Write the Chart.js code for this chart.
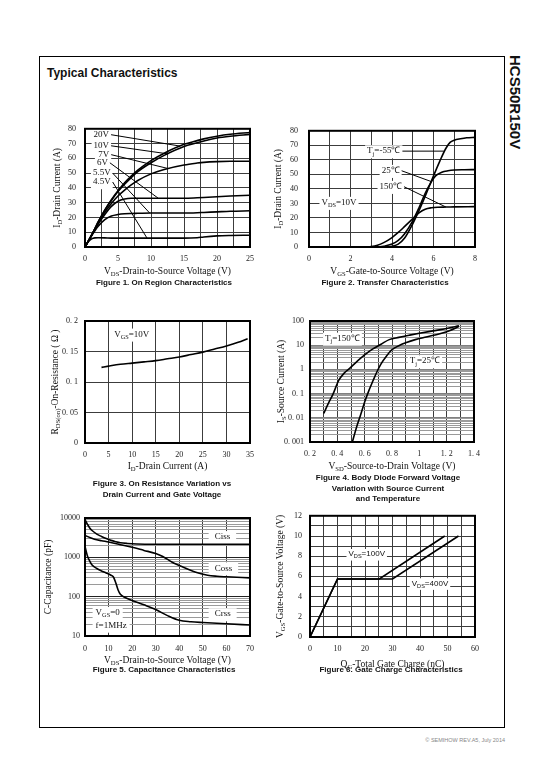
<!DOCTYPE html>
<html>
<head>
<meta charset="utf-8">
<script src="https://cdn.jsdelivr.net/npm/chart.js@4.4.1/dist/chart.umd.min.js"></script>
<style>
body { margin: 0; background: #fff; width: 540px; height: 780px; position: relative; overflow: hidden; font-family: 'Liberation Sans', Arial, sans-serif; }
#page { position: absolute; left: 39px; top: 56px; width: 466px; height: 672px; border: 1px solid #000; box-sizing: border-box; }
#title { position: absolute; left: 47px; top: 66px; font-weight: bold; font-size: 12px; line-height: 14px; color: #111; }
#part { position: absolute; left: 507px; top: 55px; writing-mode: vertical-rl; font-weight: bold; font-size: 15px; line-height: 16px; color: #111; }
#foot { position: absolute; right: 35px; top: 737px; font-size: 5.5px; color: #888; }
canvas { position: absolute; }
.cap { position: absolute; font-weight: bold; font-size: 8px; line-height: 10.5px; color: #111; text-align: center; white-space: nowrap; transform: translateX(-50%); }
</style>
</head>
<body>
<div id="page"></div>
<div id="title">Typical Characteristics</div>
<div id="part">HCS50R150V</div>

<canvas id="fig1"></canvas>
<canvas id="fig2"></canvas>
<canvas id="fig3"></canvas>
<canvas id="fig4"></canvas>
<canvas id="fig5"></canvas>
<canvas id="fig6"></canvas>

<div class="cap" style="left:164px; top:278px">Figure 1. On Region Characteristics</div>
<div class="cap" style="left:385px; top:278px">Figure 2. Transfer Characteristics</div>
<div class="cap" style="left:162px; top:479px">Figure 3. On Resistance Variation vs<br>Drain Current and Gate Voltage</div>
<div class="cap" style="left:388px; top:473px">Figure 4. Body Diode Forward Voltage<br>Variation with Source Current<br>and Temperature</div>
<div class="cap" style="left:164px; top:665px">Figure 5. Capacitance Characteristics</div>
<div class="cap" style="left:391px; top:665px">Figure 6. Gate Charge Characteristics</div>
<div id="foot">© SEMIHOW REV.A5, July 2014</div>

<script>
// ---- Figure 1: on region (ID vs VDS for several VGS)
const fig1Vds  = [0, 0.5, 1, 1.5, 2, 3, 4, 5, 6, 7, 8, 10, 12, 15, 17, 18, 20, 22, 25];
const fig1Id20 = [0, 4, 8, 12.5, 17, 25, 32, 38, 43.5, 48, 52, 58.5, 63.5, 69.5, 72, 73.2, 75, 76.3, 77.5];
const fig1Id10 = [0, 4, 8, 12.5, 17, 25, 31.5, 37.5, 42.5, 47, 51, 57, 62, 68, 70.5, 71.8, 73.8, 75, 76.2];
const fig1Id7  = [0, 4, 8, 12, 16, 23.5, 29.5, 34.5, 38.5, 42, 45, 49.5, 52.5, 55.5, 56.8, 57.3, 57.8, 58, 58];
const fig1Id6  = [0, 4, 8, 12, 15.5, 22, 27.5, 31, 32.5, 33, 33, 33, 33, 33, 33.3, 33.5, 34, 34.5, 35];
const fig1Id55 = [0, 4, 7.5, 11, 14, 18.5, 21, 22, 22.5, 22.7, 22.8, 23, 23, 23, 23.2, 23.4, 23.8, 24.2, 24.5];
const fig1Id45 = [0, 3.5, 5.5, 6.2, 6.3, 6.2, 6, 6, 6, 6, 6, 6, 6, 6, 6.3, 6.8, 7.5, 7.8, 8];
const fig1XTicks = [0, 2.5, 5, 7.5, 10, 12.5, 15, 17.5, 20, 22.5, 25];
const fig1XLabels = ['0', '', '5', '', '10', '', '15', '', '20', '', '25'];
const fig1YTicks = [0, 10, 20, 30, 40, 50, 60, 70, 80];
const fig1YLabels = ['0', '10', '20', '30', '40', '50', '60', '70', '80'];

// ---- Figure 2: transfer characteristics
const fig2VgsM55 = [3.8, 4, 4.3, 4.6, 5, 5.3, 5.6, 6, 6.3, 6.6, 6.8, 7, 7.3, 7.6, 8];
const fig2IdM55  = [0, 0.5, 2, 6, 16, 25, 35, 49, 59, 68, 72, 73.5, 74.5, 75.2, 75.5];
const fig2Vgs25  = [3.3, 3.6, 4, 4.3, 4.6, 5, 5.3, 5.6, 5.9, 6.1, 6.4, 6.7, 7, 7.5, 8];
const fig2Id25   = [0, 0.5, 2, 4.5, 9, 18, 27, 37, 45, 49, 51.5, 52.5, 53, 53.2, 53.3];
const fig2Vgs150 = [2.7, 3, 3.3, 3.6, 4, 4.3, 4.6, 5, 5.3, 5.6, 5.9, 6.2, 6.6, 7, 8];
const fig2Id150  = [0, 0.3, 1.2, 3, 6.5, 10, 14, 19.5, 23.5, 26, 27, 27.4, 27.5, 27.6, 27.8];
const fig2XTicks = [0, 1, 2, 3, 4, 5, 6, 7, 8];
const fig2XLabels = ['0', '', '2', '', '4', '', '6', '', '8'];

// ---- Figure 3: on resistance vs drain current
const fig3Id   = [3.5, 5, 7.5, 10, 12.5, 15, 17.5, 20, 22.5, 25, 27.5, 30, 32.5, 34.5];
const fig3Rds  = [0.124, 0.126, 0.129, 0.131, 0.133, 0.135, 0.138, 0.141, 0.145, 0.149, 0.154, 0.159, 0.165, 0.171];
const fig3XTicks = [0, 5, 10, 15, 20, 25, 30, 35];
const fig3XLabels = ['0', '5', '10', '15', '20', '25', '30', '35'];
const fig3YTicks = [0, 0.05, 0.1, 0.15, 0.2];
const fig3YLabels = ['0', '0. 05', '0. 1', '0. 15', '0. 2'];

// ---- Figure 4: body diode forward voltage
const fig4Vsd150 = [0.3, 0.33, 0.37, 0.41, 0.45, 0.49, 0.55, 0.6, 0.66, 0.72, 0.78, 0.85, 0.93, 1.0, 1.1, 1.2, 1.29];
const fig4Is150  = [0.015, 0.035, 0.1, 0.35, 0.7, 1.1, 2.3, 4, 7, 11, 17, 21, 26, 31, 39, 49, 63];
const fig4Vsd25  = [0.51, 0.54, 0.57, 0.6, 0.63, 0.66, 0.69, 0.72, 0.76, 0.8, 0.85, 0.9, 0.97, 1.05, 1.15, 1.22, 1.29];
const fig4Is25   = [0.001, 0.004, 0.013, 0.045, 0.13, 0.33, 0.8, 1.7, 3.6, 6.5, 9.5, 12.5, 17, 22, 30, 40, 59];
const fig4XTicks = [0.2, 0.3, 0.4, 0.5, 0.6, 0.7, 0.8, 0.9, 1.0, 1.1, 1.2, 1.3, 1.4];
const fig4XLabels = ['0. 2', '', '0. 4', '', '0. 6', '', '0. 8', '', '1', '', '1. 2', '', '1. 4'];
const fig4YDecades = [0.001, 0.01, 0.1, 1, 10, 100];
const fig4YLabels = ['0. 001', '0. 01', '0. 1', '1', '10', '100'];

// ---- Figure 5: capacitance
const fig5VdsCiss = [0, 1, 2, 3, 5, 7, 9, 11, 13, 15, 18, 22, 30, 40, 50, 60, 70];
const fig5Ciss    = [9000, 7000, 5600, 4800, 3900, 3400, 3000, 2700, 2500, 2350, 2250, 2180, 2150, 2150, 2150, 2150, 2150];
const fig5VdsCoss = [0, 2, 4, 7, 10, 15, 20, 25, 30, 33, 37, 42, 47, 52, 56, 60, 70];
const fig5Coss    = [3600, 3200, 2900, 2650, 2450, 2100, 1800, 1500, 1250, 1050, 750, 550, 420, 350, 330, 320, 300];
const fig5VdsCrss = [0, 1, 2, 3, 5, 7, 9, 11, 12, 13, 14, 15, 17, 20, 25, 30, 35, 40, 45, 50, 60, 70];
const fig5Crss    = [1900, 1100, 800, 640, 520, 450, 400, 350, 320, 230, 150, 115, 95, 80, 62, 47, 33, 25, 23, 22, 20.5, 19];
const fig5XTicks = [0, 10, 20, 30, 40, 50, 60, 70];
const fig5XLabels = ['0', '10', '20', '30', '40', '50', '60', '70'];
const fig5YDecades = [10, 100, 1000, 10000];
const fig5YLabels = ['10', '100', '1000', '10000'];

// ---- Figure 6: gate charge
const fig6Qg100  = [0, 10, 25.2, 49];
const fig6Vgs100 = [0, 5.75, 5.75, 10];
const fig6Qg400  = [0, 10, 30, 54];
const fig6Vgs400 = [0, 5.75, 5.75, 10];
const fig6XTicks = [0, 5, 10, 15, 20, 25, 30, 35, 40, 45, 50, 55, 60];
const fig6XLabels = ['0', '', '10', '', '20', '', '30', '', '40', '', '50', '', '60'];
const fig6YTicks = [0, 1, 2, 3, 4, 5, 6, 7, 8, 9, 10, 11, 12];
const fig6YLabels = ['0', '', '2', '', '4', '', '6', '', '8', '', '10', '', '12'];

const SERIF = "'Liberation Serif', 'Times New Roman', serif";
const SANS = "'Liberation Sans', Arial, sans-serif";

// text with _{sub} parts
function parseRich(s) {
    const segs = [];
    const re = /_\{([^}]*)\}/g;
    let last = 0, m;
    while ((m = re.exec(s))) {
        if (m.index > last) segs.push({ t: s.slice(last, m.index), sub: false });
        segs.push({ t: m[1], sub: true });
        last = re.lastIndex;
    }
    if (last < s.length) segs.push({ t: s.slice(last), sub: false });
    return segs;
}

function measureRich(ctx, s, size, family) {
    let w = 0;
    parseRich(s).forEach(g => {
        ctx.font = (g.sub ? size * 0.7 : size) + 'px ' + family;
        w += ctx.measureText(g.t).width;
    });
    return w;
}

function drawRich(ctx, s, x, y, size, family, align) {
    const w = measureRich(ctx, s, size, family);
    let cx = align === 'center' ? x - w / 2 : x;
    ctx.textAlign = 'left';
    ctx.textBaseline = 'middle';
    parseRich(s).forEach(g => {
        ctx.font = (g.sub ? size * 0.7 : size) + 'px ' + family;
        ctx.fillText(g.t, cx, y + (g.sub ? size * 0.32 : 0));
        cx += ctx.measureText(g.t).width;
    });
    return w;
}

// axis titles, in-plot labels with leader lines, and the heavy frame
const deco = {
    id: 'deco',
    beforeDatasetsDraw(chart, args, opts) {
        const { ctx, chartArea: a } = chart;
        const xs = chart.scales.x, ys = chart.scales.y;
        ctx.save();
        ctx.fillStyle = '#111';
        drawRich(ctx, opts.xTitle, (a.left + a.right) / 2, a.bottom + opts.xGap, 9.5, SERIF, 'center');
        ctx.translate(a.left - opts.yGap, (a.top + a.bottom) / 2);
        ctx.rotate(-Math.PI / 2);
        drawRich(ctx, opts.yTitle, 0, 0, 9.5, SERIF, 'center');
        ctx.restore();

        const items = (opts.labels || []).map(l => {
            const size = l.size || 9;
            const fam = l.sans ? SANS : SERIF;
            return { l, size, fam,
                     px: xs.getPixelForValue(l.x), py: ys.getPixelForValue(l.y),
                     w: measureRich(ctx, l.t, size, fam), padX: l.padX || 2 };
        });
        // white boxes first so no box hides another label's subscript
        ctx.save();
        ctx.fillStyle = '#fff';
        items.forEach(it => ctx.fillRect(it.px - it.padX, it.py - it.size * 0.65, it.w + it.padX * 2, it.size * 1.45));
        ctx.restore();
        items.forEach(it => {
            ctx.save();
            ctx.fillStyle = '#111';
            drawRich(ctx, it.l.t, it.px, it.py, it.size, it.fam, 'left');
            if (it.l.to) {
                ctx.strokeStyle = '#000';
                ctx.lineWidth = 1;
                ctx.beginPath();
                ctx.moveTo(it.px + it.w + 2, it.py);
                ctx.lineTo(xs.getPixelForValue(it.l.to[0]), ys.getPixelForValue(it.l.to[1]));
                ctx.stroke();
            }
            ctx.restore();
        });
    },
    afterDatasetsDraw(chart) {
        const { ctx, chartArea: a } = chart;
        ctx.save();
        ctx.strokeStyle = '#000';
        ctx.lineWidth = 2;
        ctx.strokeRect(a.left, a.top, a.right - a.left, a.bottom - a.top);
        ctx.restore();
    }
};

function tickFont() {
    return { family: SERIF, size: 8 };
}

function linAxis(vals, labels, pad, isX) {
    return {
        type: 'linear',
        min: vals[0],
        max: vals[vals.length - 1],
        afterBuildTicks: s => { s.ticks = vals.map((v, i) => ({ value: v, txt: labels[i] })); },
        afterFit: s => { if (isX) s.height = 40; else s.width = 50; },
        ticks: { autoSkip: false, maxRotation: 0, padding: pad, color: '#222', font: tickFont(),
                 callback: (v, i, t) => t[i].txt },
        grid: { color: '#3c3c3c', lineWidth: 1, drawTicks: false },
        border: { display: false }
    };
}

function logAxis(decades, labels, pad, decColor) {
    return {
        type: 'logarithmic',
        min: decades[0],
        max: decades[decades.length - 1],
        afterBuildTicks: s => {
            const t = [];
            decades.forEach((d, i) => {
                if (i === decades.length - 1) { t.push({ value: d, txt: labels[i], dec: true }); return; }
                for (let k = 1; k <= 9; k++) t.push({ value: d * k, txt: k === 1 ? labels[i] : '', dec: k === 1 });
            });
            s.ticks = t;
        },
        afterFit: s => { s.width = 50; },
        ticks: { autoSkip: false, padding: pad, color: '#222', font: tickFont(),
                 callback: (v, i, t) => t[i].txt },
        grid: { color: c => (c.tick && c.tick.dec) ? decColor : '#9a9a9a', lineWidth: 1, drawTicks: false },
        border: { display: false }
    };
}

function series(xs, ys, straight) {
    const ds = {
        data: xs.map((x, i) => ({ x: x, y: ys[i] })),
        borderColor: '#000',
        borderWidth: 1.6,
        pointRadius: 0,
        fill: false
    };
    if (!straight) ds.cubicInterpolationMode = 'monotone';
    return ds;
}

function makeChart(id, plot, xAxis, yAxis, datasets, decoOpts) {
    const cv = document.getElementById(id);
    const w = plot.r - plot.l + 62, h = plot.b - plot.t + 52;
    cv.width = w; cv.height = h;
    cv.style.width = w + 'px'; cv.style.height = h + 'px';
    cv.style.left = (plot.l - 50) + 'px';
    cv.style.top = (plot.t - 12) + 'px';
    return new Chart(cv, {
        type: 'line',
        data: { datasets: datasets },
        options: {
            responsive: false,
            animation: false,
            events: [],
            layout: { padding: { left: 0, top: 12, right: 12, bottom: 0 } },
            plugins: { legend: { display: false }, tooltip: { enabled: false }, deco: decoOpts },
            scales: { x: xAxis, y: yAxis }
        },
        plugins: [deco]
    });
}

makeChart('fig1', { l: 85, t: 127, r: 250, b: 247 },
    linAxis(fig1XTicks, fig1XLabels, 7, true),
    linAxis(fig1YTicks, fig1YLabels, 9, false),
    [series(fig1Vds, fig1Id20), series(fig1Vds, fig1Id10), series(fig1Vds, fig1Id7),
     series(fig1Vds, fig1Id6), series(fig1Vds, fig1Id55), series(fig1Vds, fig1Id45)],
    { xTitle: 'V_{DS}-Drain-to-Source Voltage (V)', yTitle: 'I_{D}-Drain Current (A)', xGap: 24, yGap: 28,
      labels: [
        { t: '20V', x: 1.3, y: 76, to: [14.4, 68.3] },
        { t: '10V', x: 1.3, y: 68.5, to: [12.6, 63] },
        { t: '7V', x: 2.0, y: 62.5, to: [12.6, 53.1] },
        { t: '6V', x: 1.8, y: 57, to: [11.1, 33] },
        { t: '5.5V', x: 1.2, y: 50, to: [9.8, 23] },
        { t: '4.5V', x: 1.2, y: 44, to: [9.4, 6] }
      ] });

makeChart('fig2', { l: 309, t: 127, r: 475, b: 247 },
    linAxis(fig2XTicks, fig2XLabels, 7, true),
    linAxis(fig1YTicks, fig1YLabels, 11, false),
    [series(fig2VgsM55, fig2IdM55), series(fig2Vgs25, fig2Id25), series(fig2Vgs150, fig2Id150)],
    { xTitle: 'V_{GS}-Gate-to-Source Voltage (V)', yTitle: 'I_{D}-Drain Current (A)', xGap: 24, yGap: 31,
      labels: [
        { t: 'T_{j}=-55℃', x: 2.8, y: 66, to: [6.5, 66] },
        { t: '25℃', x: 3.5, y: 52.5, to: [5.9, 45] },
        { t: '150℃', x: 3.4, y: 41.5, to: [6.6, 27.5] },
        { t: 'V_{DS}=10V', x: 0.6, y: 30.5 }
      ] });

makeChart('fig3', { l: 85, t: 321, r: 250, b: 443 },
    linAxis(fig3XTicks, fig3XLabels, 7, true),
    linAxis(fig3YTicks, fig3YLabels, 7, false),
    [series(fig3Id, fig3Rds)],
    { xTitle: 'I_{D}-Drain Current (A)', yTitle: 'R_{DS(on)}-On-Resistance ( Ω )', xGap: 23, yGap: 30,
      labels: [ { t: 'V_{GS}=10V', x: 6.2, y: 0.178 } ] });

makeChart('fig4', { l: 310, t: 321, r: 475, b: 442 },
    linAxis(fig4XTicks, fig4XLabels, 7, true),
    logAxis(fig4YDecades, fig4YLabels, 6, '#808080'),
    [series(fig4Vsd150, fig4Is150), series(fig4Vsd25, fig4Is25)],
    { xTitle: 'V_{SD}-Source-to-Drain Voltage (V)', yTitle: 'I_{S}-Source Current (A)', xGap: 24, yGap: 29,
      labels: [
        { t: 'T_{j}=150℃', x: 0.31, y: 19 },
        { t: 'T_{j}=25℃', x: 0.93, y: 2.2 }
      ] });

makeChart('fig5', { l: 85, t: 518, r: 250, b: 636 },
    linAxis(fig5XTicks, fig5XLabels, 8, true),
    logAxis(fig5YDecades, fig5YLabels, 5, '#222'),
    [series(fig5VdsCiss, fig5Ciss), series(fig5VdsCoss, fig5Coss), series(fig5VdsCrss, fig5Crss)],
    { xTitle: 'V_{DS}-Drain-to-Source Voltage (V)', yTitle: 'C-Capacitance (pF)', xGap: 24, yGap: 37,
      labels: [
        { t: 'Ciss', x: 55, y: 3300, padX: 6 },
        { t: 'Coss', x: 55, y: 530, padX: 6 },
        { t: 'Crss', x: 55, y: 36, padX: 6 },
        { t: 'V_{GS}=0', x: 4.5, y: 39, padX: 3 },
        { t: 'f=1MHz', x: 4.5, y: 18.5, padX: 3 }
      ] });

makeChart('fig6', { l: 310, t: 515, r: 475, b: 637 },
    linAxis(fig6XTicks, fig6XLabels, 7, true),
    linAxis(fig6YTicks, fig6YLabels, 8, false),
    [series(fig6Qg100, fig6Vgs100, true), series(fig6Qg400, fig6Vgs400, true)],
    { xTitle: 'Q_{G}-Total Gate Charge (nC)', yTitle: 'V_{GS}-Gate-to-Source Voltage (V)', xGap: 27, yGap: 30,
      labels: [
        { t: 'V_{DS}=100V', x: 14, y: 8.2, sans: true, size: 8 },
        { t: 'V_{DS}=400V', x: 37, y: 5.3, sans: true, size: 8 }
      ] });
</script>
</body>
</html>
